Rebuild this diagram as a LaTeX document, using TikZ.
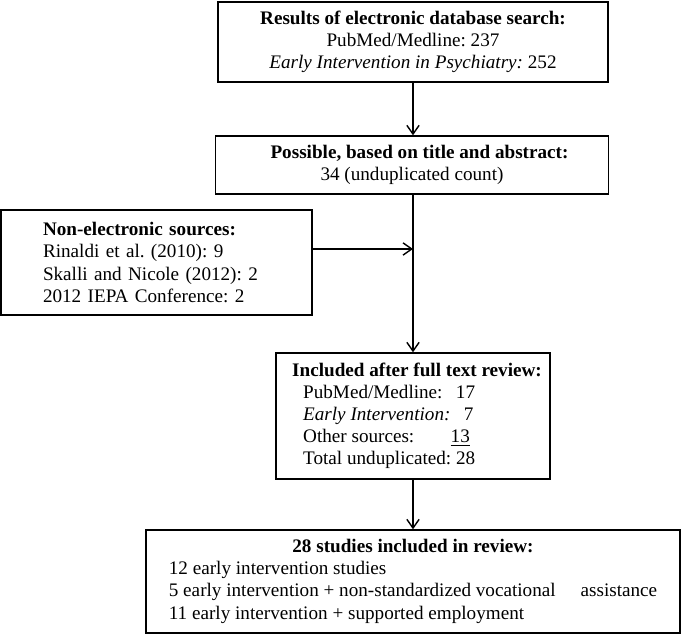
\documentclass[tikz,border=0pt]{standalone}
\usepackage{fontspec}
\setmainfont{Liberation Serif}
\usetikzlibrary{arrows.meta}
\frenchspacing

\begin{document}
\begin{tikzpicture}[x=0.02cm,y=-0.02cm]
  \tikzstyle{box}=[draw,line width=0.8pt,inner sep=0pt,font=\fontsize{10.9}{12.6}\selectfont]
  \tikzstyle{flow line}=[line width=0.8pt,-{Straight Barb[length=5pt,width=7pt]}]

  \useasboundingbox (0,0) rectangle (681,635);

  \node [box,minimum width=7.8cm,minimum height=1.6cm,align=center] (search) at (413,42)
    {\textbf{Results of electronic database search:}\\
     PubMed/Medline: 237\\
     \textit{Early Intervention in Psychiatry:} 252};

  \node [box,minimum width=7.86cm,minimum height=1.16cm,align=center] (possible) at (412,165)
    {\hspace*{0.3cm}\textbf{Possible, based on title and abstract:}\\
     34 (unduplicated count)};

  \node [box,minimum width=6.22cm,minimum height=2.1cm,text width=4.54cm,inner xsep=0.84cm,align=left] (nonelec) at (156.5,262.5)
    {\textbf{Non-electronic sources:}\\
     Rinaldi et al. (2010): 9\\
     Skalli and Nicole (2012): 2\\
     2012 IEPA Conference: 2};

  \node [box,minimum width=5.48cm,minimum height=2.52cm] (included) at (413,416)
    {\begin{tabular}{@{\hspace{0.16cm}}l@{}}
       \textbf{Included after full text review:}\\
       \hspace*{0.22cm}PubMed/Medline:\hspace{0.7em}17\\
       \hspace*{0.22cm}\textit{Early Intervention:}\hspace{0.7em}7\\
       \hspace*{0.22cm}Other sources:\hspace{1.9em}\underline{13}\\
       \hspace*{0.22cm}Total unduplicated: 28
     \end{tabular}};

  \node [box,minimum width=10.68cm,minimum height=2.06cm] (review) at (413,581.5)
    {\begin{tabular}{@{}l@{}}
       \multicolumn{1}{@{}c@{}}{\textbf{28 studies included in review:}}\\
       12 early intervention studies\\
       5 early intervention + non-standardized vocational\hspace{1.3em}assistance\\
       11 early intervention + supported employment
     \end{tabular}};

  \draw [flow line] (search.south) -- (search.south |- possible.north);
  \draw [flow line] (possible.south -| included.north) -- (included.north);
  \coordinate (join) at (included.north |- 0,249);
  \draw [flow line] (join -| nonelec.east) -- (join);
  \draw [flow line] (included.south) -- (review.north);
\end{tikzpicture}
\end{document}
